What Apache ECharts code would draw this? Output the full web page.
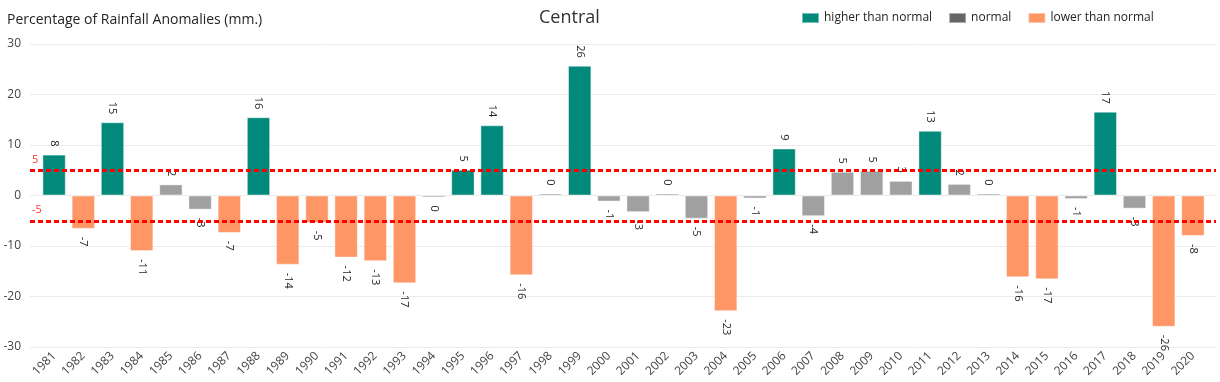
<!DOCTYPE html>
<html>
<head>
<meta charset="utf-8">
<script src="https://cdn.jsdelivr.net/npm/echarts@6/dist/echarts.min.js"></script>
<style>
  html, body { margin: 0; padding: 0; background: #fff; }
  #chart { width: 1220px; height: 382px; }
</style>
</head>
<body>
<div id="chart"></div>
<script>
// ---- data ----
const years = ['1981','1982','1983','1984','1985','1986','1987','1988','1989','1990',
  '1991','1992','1993','1994','1995','1996','1997','1998','1999','2000',
  '2001','2002','2003','2004','2005','2006','2007','2008','2009','2010',
  '2011','2012','2013','2014','2015','2016','2017','2018','2019','2020'];
const anomalies = [8.1, -6.6, 14.5, -11.0, 2.2, -2.8, -7.4, 15.5, -13.7, -5.4,
  -12.3, -13.0, -17.4, -0.3, 5.1, 13.9, -15.8, 0.2, 25.7, -1.2,
  -3.3, 0.2, -4.6, -22.9, -0.6, 9.3, -4.1, 4.7, 4.9, 2.9,
  12.8, 2.3, 0.3, -16.2, -16.6, -0.7, 16.6, -2.6, -26.0, -8.0];
const seriesNames = ['higher than normal', 'normal', 'lower than normal'];
const thresholdValues = [5, -5];
const yMin = -30, yMax = 30, yInterval = 10;

// ---- styling ----
const FONT = '"Segoe UI", "Open Sans", "Noto Sans", sans-serif';
const legendColors = ['#01897B', '#666666', '#FE9666'];
const barColors = ['#01897B', '#A0A0A0', '#FE9666'];

function classOf(v) {
  if (v > thresholdValues[0]) return 0;
  if (v < thresholdValues[1]) return 2;
  return 1;
}

function makeItem(v, cls) {
  const pos = v >= 0;
  const r = Math.round(v);
  return {
    value: v,
    itemStyle: { color: barColors[cls] },
    label: {
      show: true,
      position: pos ? 'top' : 'bottom',
      rotate: -90,
      align: pos ? 'right' : 'left',
      verticalAlign: 'middle',
      distance: 8,
      formatter: () => String(r === 0 ? 0 : r),
      color: '#252423',
      fontSize: 11,
      fontFamily: FONT
    }
  };
}

const barSeries = seriesNames.map((name, s) => ({
  name: name,
  type: 'bar',
  xAxisIndex: 1,
  yAxisIndex: 1,
  barWidth: '80%',
  barGap: '-100%',
  barMinHeight: 2,
  itemStyle: { color: legendColors[s], borderColor: 'rgba(255,255,255,0.45)', borderWidth: 1 },
  data: anomalies.map(v => classOf(v) === s ? makeItem(v, s) : '-'),
  z: 2
}));

const gridTop = 44, gridBottom = 35;

const option = {
  animation: false,
  backgroundColor: '#ffffff',
  textStyle: { fontFamily: FONT },
  title: [
    {
      text: 'Central',
      left: 534,
      top: 4,
      textStyle: { fontSize: 18, fontWeight: 'normal', color: '#333333', fontFamily: FONT }
    },
    {
      text: 'Percentage of Rainfall Anomalies (mm.)',
      left: 2,
      top: 8,
      textStyle: { fontSize: 14, fontWeight: 'normal', color: '#252423', fontFamily: FONT }
    }
  ],
  legend: {
    data: seriesNames,
    left: 796,
    top: 7,
    icon: 'rect',
    itemWidth: 17,
    itemHeight: 10,
    itemGap: 16,
    textStyle: { fontSize: 12, color: '#252423', fontFamily: FONT }
  },
  grid: [
    { left: 30, right: 4, top: gridTop, bottom: gridBottom },
    { left: 39.5, right: 12.5, top: gridTop, bottom: gridBottom }
  ],
  xAxis: [
    { type: 'value', gridIndex: 0, min: 0, max: 1, show: false },
    {
      type: 'category',
      gridIndex: 1,
      data: years,
      axisLine: { show: false },
      axisTick: { show: false },
      axisLabel: { rotate: 45, fontSize: 12, color: '#444', margin: 7, fontFamily: FONT, interval: 0 }
    }
  ],
  yAxis: [
    {
      type: 'value',
      gridIndex: 0,
      min: yMin, max: yMax, interval: yInterval,
      axisLine: { show: false },
      axisTick: { show: false },
      axisLabel: { fontSize: 12, color: '#444', margin: 9, fontFamily: FONT },
      splitLine: { lineStyle: { color: '#EAEAEA', width: 1 } }
    },
    {
      type: 'value',
      gridIndex: 1,
      min: yMin, max: yMax, interval: yInterval,
      show: false,
      splitLine: { show: false }
    }
  ],
  series: [
    {
      name: 'thresholds',
      type: 'line',
      xAxisIndex: 0,
      yAxisIndex: 0,
      data: [],
      z: 5,
      markLine: {
        silent: true,
        symbol: 'none',
        lineStyle: { color: '#FF0000', type: [5, 3], width: 3 },
        label: {
          position: 'insideStartTop',
          formatter: p => String(p.value),
          color: '#FF3333',
          fontSize: 11,
          distance: [2, 5],
          fontFamily: FONT
        },
        data: thresholdValues.map(v => ({ yAxis: v }))
      }
    }
  ].concat(barSeries)
};

const chart = echarts.init(document.getElementById('chart'), null, { renderer: 'canvas' });
chart.setOption(option);
</script>
</body>
</html>
